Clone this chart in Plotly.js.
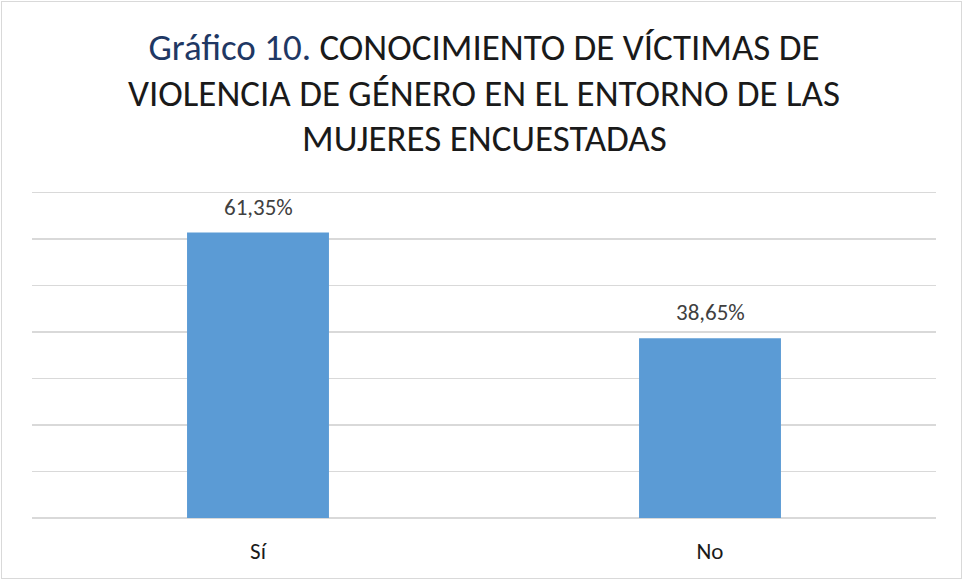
<!DOCTYPE html>
<html>
<head>
<meta charset="utf-8">
<script src="https://cdn.plot.ly/plotly-3.0.1.min.js"></script>
<style>
html,body{margin:0;padding:0;background:#fff;}
#wrap{position:relative;width:964px;height:581px;}
#chart{width:964px;height:581px;}
#frame{position:absolute;left:1px;top:1px;width:959px;height:576px;border:1px solid #d9d9d9;pointer-events:none;}
</style>
</head>
<body>
<div id="wrap"><div id="chart"></div><div id="frame"></div></div>
<script>
const categories = ["Sí", "No"];
const values = [61.35, 38.65];
const titleLines = [
  '<span style="color:#1F3864">Gráfico 10.</span> CONOCIMIENTO DE VÍCTIMAS DE',
  'VIOLENCIA DE GÉNERO EN EL ENTORNO DE LAS',
  'MUJERES ENCUESTADAS'
];
const gridTicks = [0, 10, 20, 30, 40, 50, 60, 70];

const FONT = "Carlito, Lato, sans-serif";

const trace = {
  type: 'bar',
  x: categories,
  y: values,
  marker: {color: '#5B9BD5'},
  hoverinfo: 'skip'
};

const titleY = [47, 93, 138];
const plotTop = 190, plotBottom = 518;
const annotations = [];
for (let i = 1; i < titleLines.length; i++) {
  annotations.push({
    xref: 'paper', yref: 'paper', x: 0.5, y: (plotBottom - titleY[i]) / (plotBottom - plotTop),
    xanchor: 'center', yanchor: 'middle', showarrow: false,
    text: titleLines[i], font: {family: FONT, size: 37, color: '#1a1a1a'}
  });
}
categories.forEach((c, i) => {
  annotations.push({
    x: c, y: values[i], xref: 'x', yref: 'y', yanchor: 'middle', showarrow: false,
    yshift: 26,
    text: values[i].toFixed(2).replace('.', ',') + '%',
    font: {family: FONT, size: 23, color: '#404040'}
  });
});

const layout = {
  width: 964, height: 581,
  margin: {l: 32, r: 28, t: 190, b: 63},
  paper_bgcolor: '#fff', plot_bgcolor: '#fff',
  title: {
    text: titleLines[0], x: 0.5, xanchor: 'center', xref: 'paper',
    y: 1 - titleY[0] / 581, yanchor: 'middle', yref: 'container',
    font: {family: FONT, size: 37, color: '#1a1a1a'}
  },
  bargap: 0.686,
  showlegend: false,
  xaxis: {
    type: 'category', showgrid: false, zeroline: false, showline: false,
    ticks: '', ticklabelstandoff: 17,
    tickfont: {family: FONT, size: 23, color: '#1a1a1a'}
  },
  yaxis: {
    range: [0, 70.5], tickmode: 'array', tickvals: gridTicks, showticklabels: false, ticks: '',
    showgrid: true, gridcolor: '#d9d9d9', gridwidth: 1.5,
    zeroline: true, zerolinecolor: '#d9d9d9', zerolinewidth: 1.5, showline: false
  },
  annotations: annotations
};

Plotly.newPlot('chart', [trace], layout, {displayModeBar: false, staticPlot: true});
</script>
</body>
</html>
